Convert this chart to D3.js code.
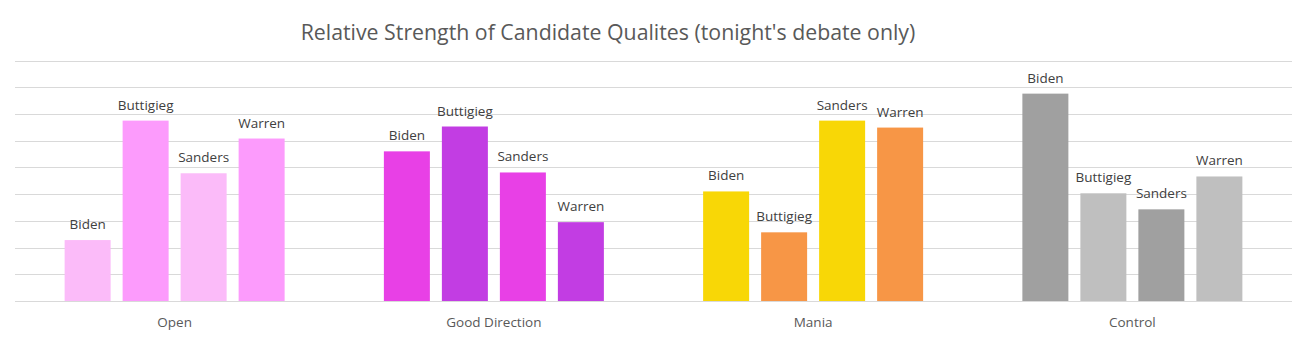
<!DOCTYPE html>
<html>
<head>
<meta charset="utf-8">
<script src="https://cdn.jsdelivr.net/npm/d3@7"></script>
<style>
  html, body { margin: 0; padding: 0; background: #fff; }
  svg { display: block; }
  text { font-family: "Open Sans", "Noto Sans", sans-serif; }
</style>
</head>
<body>
<svg id="chart" width="1307" height="339"></svg>
<script>
const categories = ["Open", "Good Direction", "Mania", "Control"];
const candidates = ["Biden", "Buttigieg", "Sanders", "Warren"];
const bidenValues     = [2.28, 5.60, 4.10, 7.76];
const buttigiegValues = [6.75, 6.53, 2.57, 4.03];
const sandersValues   = [4.78, 4.81, 6.75, 3.43];
const warrenValues    = [6.08, 2.95, 6.49, 4.66];
const gridTicks = [0, 1, 2, 3, 4, 5, 6, 7, 8, 9];
const barColors = [
  ["#FBBBF9", "#FC9BFC", "#FBBBF9", "#FC9BFC"],
  ["#E840E6", "#C23DE3", "#E840E6", "#C23DE3"],
  ["#F8D706", "#F79646", "#F8D706", "#F79646"],
  ["#A0A0A0", "#BFBFBF", "#A0A0A0", "#BFBFBF"]
];
const title = "Relative Strength of Candidate Qualites (tonight's debate only)";

const seriesValues = [bidenValues, buttigiegValues, sandersValues, warrenValues];
const data = categories.map((c, ci) => ({
  category: c,
  bars: candidates.map((name, si) => ({ name, value: seriesValues[si][ci], color: barColors[ci][si] }))
}));

const svg = d3.select("#chart");
const plotLeft = 15, plotRight = 1292, plotTop = 60.5, plotBottom = 301;

const x = d3.scaleBand().domain(categories).range([plotLeft, plotRight]).padding(0);
const xi = d3.scaleBand().domain(candidates).range([-110, 110]).paddingInner(12 / 58).paddingOuter(0);
const y = d3.scaleLinear().domain([0, 9]).range([plotBottom, plotTop]);

// gridlines
svg.append("g").selectAll("line").data(gridTicks).join("line")
  .attr("x1", plotLeft).attr("x2", plotRight)
  .attr("y1", d => Math.round(y(d)) + 0.5).attr("y2", d => Math.round(y(d)) + 0.5)
  .attr("stroke", "#D9D9D9").attr("stroke-width", 1);

// title
svg.append("text")
  .attr("x", 608).attr("y", 40)
  .attr("text-anchor", "middle")
  .attr("fill", "#595959")
  .style("font-size", "21.3px")
  .text(title);

const groups = svg.append("g").selectAll("g").data(data).join("g")
  .attr("transform", d => `translate(${x(d.category) + x.bandwidth() / 2},0)`);

groups.selectAll("rect").data(d => d.bars).join("rect")
  .attr("x", d => xi(d.name))
  .attr("width", xi.bandwidth())
  .attr("y", d => y(d.value))
  .attr("height", d => plotBottom - y(d.value))
  .attr("fill", d => d.color);

groups.selectAll("text.lbl").data(d => d.bars).join("text")
  .attr("class", "lbl")
  .attr("x", d => xi(d.name) + xi.bandwidth() / 2)
  .attr("y", d => y(d.value) - 11)
  .attr("text-anchor", "middle")
  .attr("fill", "#404040")
  .style("font-size", "13.5px")
  .text(d => d.name);

// x axis labels
const xAxis = d3.axisBottom(x).tickSize(0).tickPadding(16);
const axG = svg.append("g").attr("transform", `translate(0,${plotBottom})`).call(xAxis);
axG.select(".domain").remove();
axG.selectAll("text")
  .attr("fill", "#595959")
  .style("font-size", "13.5px")
  .style("font-family", "'Open Sans', 'Noto Sans', sans-serif");
</script>
</body>
</html>
